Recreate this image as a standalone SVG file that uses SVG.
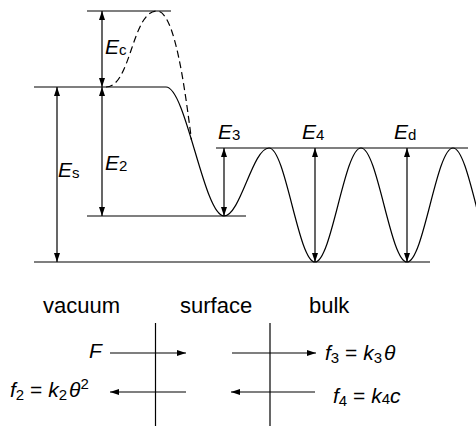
<svg xmlns="http://www.w3.org/2000/svg" width="476" height="426" viewBox="0 0 476 426">
<defs>
<marker id="ah" markerUnits="userSpaceOnUse" markerWidth="10" markerHeight="8" refX="9" refY="3" orient="auto-start-reverse" viewBox="0 0 10 6">
<path d="M0,0 L9,3 L0,6 z" fill="#000"/>
</marker>
<style>
.ln{stroke:#000;stroke-width:1.2;fill:none}
.dash{stroke:#000;stroke-width:1.2;fill:none;stroke-dasharray:7,4}
.arr{stroke:#000;stroke-width:1.2;fill:none;marker-end:url(#ah)}
.dbl{stroke:#000;stroke-width:1.2;fill:none;marker-start:url(#ah);marker-end:url(#ah)}
text{font-family:"Liberation Sans",Arial,sans-serif;font-size:21px;fill:#000}
.it{font-style:italic}
.sub{font-size:15px;font-style:normal}
.rg{font-size:22px}
</style>
</defs>
<g id="levels">
<path class="ln" d="M87,11 H171"/>
<path class="ln" d="M87,216 H246"/>
<path class="ln" d="M216,148 H468"/>
<path class="ln" d="M34,262 H430"/>
</g>
<g id="curves">
<path class="ln" d="M34,87 H166 C186,87 204,216 224,216 C240.4,216 252.6,148 269,148 C285.7,148 298.3,262 315,262 C331.7,262 344.3,148 361,148 C377.7,148 390.3,262 407,262 C423.7,262 436.3,148 453,148 C469.7,148 482.3,262 499,262"/>
<path class="dash" d="M106,87 C131,87 132,11 157,11 C175,11 185,90 191.5,140"/>
</g>
<g id="connectors">
<path class="dbl" d="M102,11 V87"/>
<path class="dbl" d="M102,87 V216"/>
<path class="dbl" d="M57,87 V262"/>
<path class="dbl" d="M224,148 V216"/>
<path class="dbl" d="M315,148 V262"/>
<path class="dbl" d="M407,148 V262"/>
<path class="arr" d="M110,353 H186"/>
<path class="arr" d="M232,353 H316"/>
<path class="arr" d="M186,392 H110"/>
<path class="arr" d="M315,392 H231"/>
<path class="ln" d="M155.5,323 V426"/>
<path class="ln" d="M270,323 V426"/>
</g>
<g id="labels">
<text x="105" y="54" class="it">E<tspan class="sub" dy="1">c</tspan></text>
<text x="58" y="177" class="it">E<tspan class="sub" dy="1">s</tspan></text>
<text x="105" y="170" class="it">E<tspan class="sub" dy="1">2</tspan></text>
<text x="218" y="139" class="it">E<tspan class="sub" dy="1">3</tspan></text>
<text x="302" y="139" class="it">E<tspan class="sub" dy="1">4</tspan></text>
<text x="394" y="139" class="it">E<tspan class="sub" dy="1">d</tspan></text>
</g>
<g id="regions">
<text x="43" y="313" class="rg">vacuum</text>
<text x="180" y="313" class="rg">surface</text>
<text x="309" y="313" class="rg">bulk</text>
</g>
<g id="fluxes">
<text x="89" y="358" class="it">F</text>
<text x="325" y="360" class="it">f<tspan class="sub" dy="3">3</tspan><tspan dy="-3" style="font-style:normal"> = </tspan>k<tspan class="sub" dy="3">3</tspan><tspan dy="-3" dx="2">θ</tspan></text>
<text x="10" y="397" class="it">f<tspan class="sub" dy="3">2</tspan><tspan dy="-3" style="font-style:normal"> = </tspan>k<tspan class="sub" dy="3">2</tspan><tspan dy="-3" dx="2">θ</tspan><tspan class="sub" dy="-8">2</tspan></text>
<text x="333" y="403" class="it">f<tspan class="sub" dy="3">4</tspan><tspan dy="-3" style="font-style:normal"> = </tspan>k<tspan class="sub" dy="1">4</tspan><tspan dy="-1">c</tspan></text>
</g>
</svg>
